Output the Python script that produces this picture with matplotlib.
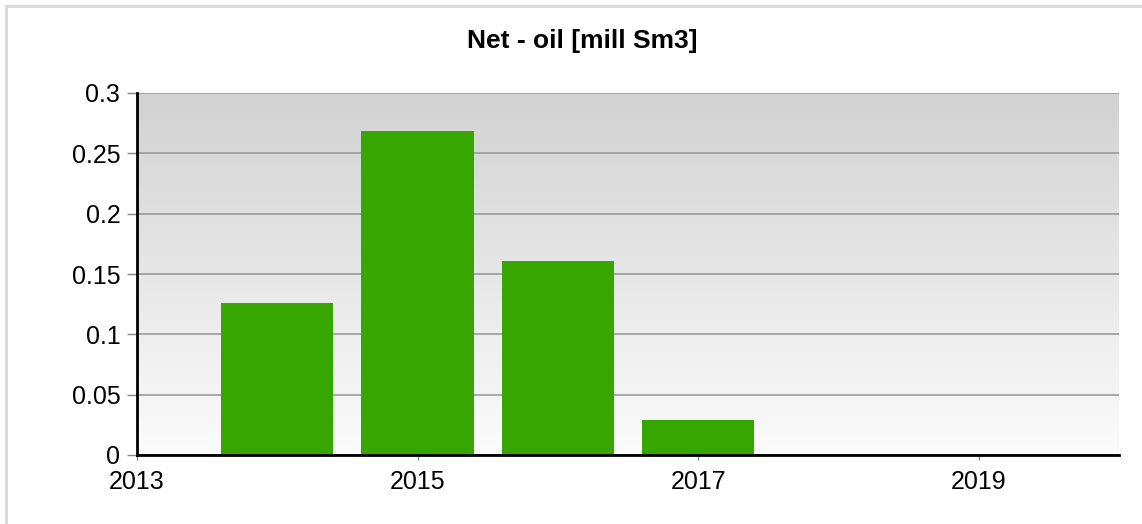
import numpy as np
import matplotlib.pyplot as plt
from matplotlib.patches import Rectangle
from matplotlib.colors import LinearSegmentedColormap

years = [2014, 2015, 2016, 2017]
net_oil = [0.126, 0.2685, 0.161, 0.029]
xticks = [2013, 2015, 2017, 2019]
yticks = [0, 0.05, 0.1, 0.15, 0.2, 0.25, 0.3]
ytick_labels = ["0", "0.05", "0.1", "0.15", "0.2", "0.25", "0.3"]

plt.rcParams['font.family'] = ['Liberation Sans', 'DejaVu Sans']

fig = plt.figure(figsize=(11.42, 5.24), dpi=100)
W, H = 1142, 524

# outer light border
fig.patches.append(Rectangle((6 / W, -0.1), 1.2, (H - 6) / H + 0.1,
                             transform=fig.transFigure, fill=False,
                             edgecolor="#d8d8d8", linewidth=2))

ax = fig.add_axes([137 / W, (H - 455) / H, (1119 - 137) / W, (455 - 93) / H])

# vertical gradient background
grad = np.linspace(0, 1, 256).reshape(-1, 1)
ax.imshow(grad, extent=[0, 1, 0, 1], transform=ax.transAxes, aspect="auto",
          cmap=LinearSegmentedColormap.from_list("bg", ["#fcfcfc", "#d2d2d2"]),
          origin="lower", zorder=0)

ax.bar(years, net_oil, width=0.8, color="#37a700", zorder=3)

ax.set_xlim(2013, 2020)
ax.set_ylim(0, 0.3)
ax.set_xticks(xticks)
ax.set_xticklabels([str(x) for x in xticks])
ax.set_yticks(yticks)
ax.set_yticklabels(ytick_labels)
ax.yaxis.grid(True, color="#9a9a9a", linewidth=1.2, zorder=1)
ax.set_axisbelow(True)

for s in ["top", "right"]:
    ax.spines[s].set_visible(False)
for s in ["left", "bottom"]:
    ax.spines[s].set_linewidth(2)
    ax.spines[s].set_zorder(4)

ax.tick_params(axis="y", length=7, width=1, color="#888888", labelsize=18, pad=5)
ax.tick_params(axis="x", length=3.5, width=1, color="#888888", labelsize=18, pad=7)

fig.text(582 / W, (H - 48) / H, "Net - oil [mill Sm3]",
         ha="center", va="baseline", fontsize=19, fontweight="bold")

fig.savefig("out.png", dpi=100)
